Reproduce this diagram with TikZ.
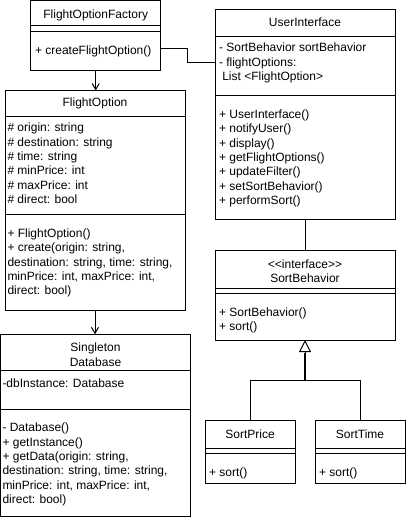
\documentclass[tikz,border=0pt]{standalone}
\usepackage{fontspec}
\setmainfont{Liberation Sans}
\usetikzlibrary{arrows.meta}
\newcommand\tfirst{\rule{0pt}{10pt}}
\begin{document}
\begin{tikzpicture}[x=1pt,y=-1pt,
  comp/.style={draw=black, line width=1pt, anchor=north west, inner sep=0pt, outer sep=0pt},
  txt/.style={anchor=north west, inner sep=0pt, outer sep=0pt, align=left, font=\fontsize{12}{14.4}\selectfont},
  ttl/.style={anchor=north, inner sep=0pt, outer sep=0pt, align=center, font=\fontsize{12}{14.4}\selectfont},
  assoc/.style={draw=black, line width=1pt},
  dep/.style={draw=black, line width=1pt, -{Straight Barb[length=6pt,width=7pt]}},
  inh/.style={draw=black, line width=1pt, -{Triangle[open,length=12pt,width=12pt]}},
]
\useasboundingbox (0,0) rectangle (406,518);

% FlightOptionFactory
\node[comp, minimum width=130pt, minimum height=25.2pt] (fact) at (30.7,0.5) {};
\node[comp, minimum width=130pt, minimum height=6pt] (faca) at (30.7,25.7) {};
\node[comp, minimum width=130pt, minimum height=38.5pt] (facm) at (30.7,31.7) {};
\node[ttl] (factx) at (95.7,8.3) {\tfirst FlightOptionFactory};
\node[txt] (facmx) at (35,44.3) {\tfirst + createFlightOption()};

% FlightOption
\node[comp, minimum width=180pt, minimum height=26.2pt] (fot) at (5,90.5) {};
\node[comp, minimum width=180pt, minimum height=98.3pt] (foa) at (5,116.7) {};
\node[comp, minimum width=180pt, minimum height=95pt] (fom) at (5,215) {};
\node[ttl] (fotx) at (95,96.7) {\tfirst FlightOption};
\node[txt] (foax) at (7.5,121.7) {\tfirst \# origin: string\\ \# destination: string\\ \# time: string\\ \# minPrice: int\\ \# maxPrice: int\\ \# direct: bool};
\node[txt] (fomx) at (7.5,227.3) {\tfirst + FlightOption()\\ + create(origin: string,\\ destination: string, time: string,\\ minPrice: int, maxPrice: int,\\ direct: bool)};

% Singleton Database
\node[comp, minimum width=190pt, minimum height=36.4pt] (dbt) at (0.5,334.3) {};
\node[comp, minimum width=190pt, minimum height=38.6pt] (dba) at (0.5,370.7) {};
\node[comp, minimum width=190pt, minimum height=107.4pt] (dbm) at (0.5,409.3) {};
\node[ttl] (dbtx) at (95.5,341.7) {\tfirst Singleton\\ Database};
\node[txt] (dbax) at (2.5,377) {\tfirst -dbInstance: Database};
\node[txt] (dbmx) at (2.5,421.7) {\tfirst - Database()\\ + getInstance()\\ + getData(origin: string,\\ destination: string, time: string,\\ minPrice: int, maxPrice: int,\\ direct: bool)};

% UserInterface
\node[comp, minimum width=180pt, minimum height=26.7pt] (uit) at (215,10) {};
\node[comp, minimum width=180pt, minimum height=59.3pt] (uia) at (215,36.7) {};
\node[comp, minimum width=180pt, minimum height=124pt] (uim) at (215,96) {};
\node[ttl] (uitx) at (305,17) {\tfirst UserInterface};
\node[txt] (uiax) at (219,41.7) {\tfirst - SortBehavior sortBehavior\\ - flightOptions:\\ \hspace*{3.3pt}List {<}FlightOption{>}};
\node[txt] (uimx) at (219,108.3) {\tfirst + UserInterface()\\ + notifyUser()\\ + display()\\ + getFlightOptions()\\ + updateFilter()\\ + setSortBehavior()\\ + performSort()};

% SortBehavior
\node[comp, minimum width=180pt, minimum height=38.3pt] (sbt) at (215,250) {};
\node[comp, minimum width=180pt, minimum height=5pt] (sba) at (215,288.3) {};
\node[comp, minimum width=180pt, minimum height=46.7pt] (sbm) at (215,293.3) {};
\node[ttl] (sbtx) at (305,258.5) {\tfirst {<}{<}interface{>}{>}\\ SortBehavior};
\node[txt] (sbmx) at (219,306) {\tfirst + SortBehavior()\\ + sort()};

% SortPrice
\node[comp, minimum width=90pt, minimum height=28.3pt] (spt) at (205,420) {};
\node[comp, minimum width=90pt, minimum height=5pt] (spa) at (205,448.3) {};
\node[comp, minimum width=90pt, minimum height=29.7pt] (spm) at (205,453.3) {};
\node[ttl] (sptx) at (250,428) {\tfirst SortPrice};
\node[txt] (spmx) at (209,466) {\tfirst + sort()};

% SortTime
\node[comp, minimum width=90pt, minimum height=28.3pt] (stt) at (315,420) {};
\node[comp, minimum width=90pt, minimum height=5pt] (sta) at (315,448.3) {};
\node[comp, minimum width=90pt, minimum height=29.7pt] (stm) at (315,453.3) {};
\node[ttl] (sttx) at (360,428) {\tfirst SortTime};
\node[txt] (stmx) at (319,466) {\tfirst + sort()};

% connectors
\draw[dep] (facm.south) -- (facm.south |- fot.north);
\draw[assoc] ([yshift=2pt]facm.east) -- ++(27,0) |- ([yshift=4pt]uia.west);
\draw[dep] (fom.south) -- (fom.south |- dbt.north);
\draw[assoc] (uim.south) -- (sbt.north);
\coordinate (join) at (305,380);
\draw[assoc] (spt.north) |- (join);
\draw[assoc] (stt.north) |- (join);
\draw[inh] (join) -- (sbm.south);
\draw[line width=2pt] (join) -- ++(0,-27.5);
\end{tikzpicture}
\end{document}
